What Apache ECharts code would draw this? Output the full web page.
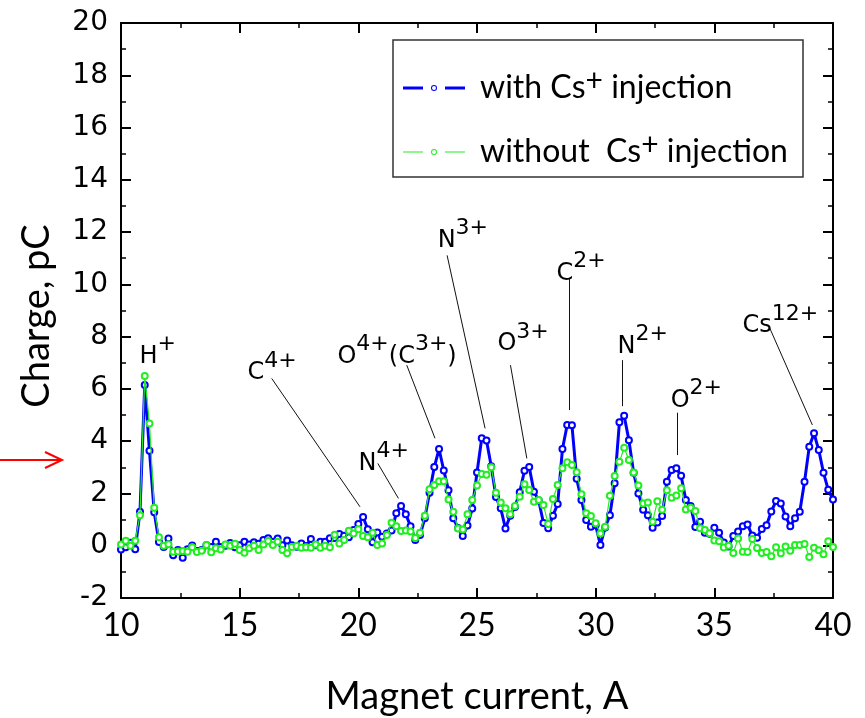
<!DOCTYPE html>
<html>
<head>
<meta charset="utf-8">
<script src="https://cdn.jsdelivr.net/npm/echarts@6/dist/echarts.min.js"></script>
<style>html,body{margin:0;padding:0;background:#fff;}#c{width:865px;height:718px;}</style>
</head>
<body>
<div id="c"></div>
<script>
// Magnet current, A
const xValues = [
 10.0,10.2,10.4,10.6,10.8, 11.0,11.2,11.4,11.6,11.8, 12.0,12.2,12.4,12.6,12.8, 13.0,13.2,13.4,13.6,13.8,
 14.0,14.2,14.4,14.6,14.8, 15.0,15.2,15.4,15.6,15.8, 16.0,16.2,16.4,16.6,16.8, 17.0,17.2,17.4,17.6,17.8,
 18.0,18.2,18.4,18.6,18.8, 19.0,19.2,19.4,19.6,19.8, 20.0,20.2,20.4,20.6,20.8, 21.0,21.2,21.4,21.6,21.8,
 22.0,22.2,22.4,22.6,22.8, 23.0,23.2,23.4,23.6,23.8, 24.0,24.2,24.4,24.6,24.8, 25.0,25.2,25.4,25.6,25.8,
 26.0,26.2,26.4,26.6,26.8, 27.0,27.2,27.4,27.6,27.8, 28.0,28.2,28.4,28.6,28.8, 29.0,29.2,29.4,29.6,29.8,
 30.0,30.2,30.4,30.6,30.8, 31.0,31.2,31.4,31.6,31.8, 32.0,32.2,32.4,32.6,32.8, 33.0,33.2,33.4,33.6,33.8,
 34.0,34.2,34.4,34.6,34.8, 35.0,35.2,35.4,35.6,35.8, 36.0,36.2,36.4,36.6,36.8, 37.0,37.2,37.4,37.6,37.8,
 38.0,38.2,38.4,38.6,38.8, 39.0,39.2,39.4,39.6,39.8, 40.0
];
// Charge with Cs+ injection, pC
const withCs = [
 -0.14,-0.06,0.11,-0.13,1.30, 6.15,3.63,1.28,0.14,-0.05, 0.28,-0.36,-0.16,-0.46,-0.13, 0.01,-0.20,-0.16,0.02,-0.05,
 0.15,-0.05,0.00,0.10,-0.06, 0.02,0.15,0.05,0.13,0.08, 0.22,0.29,0.15,0.28,0.02, 0.20,0.02,-0.04,0.09,-0.01,
 0.26,0.02,0.15,0.15,0.29, 0.30,0.45,0.38,0.32,0.60, 0.83,1.10,0.63,0.13,0.51, 0.34,0.47,0.58,1.24,1.52,
 1.20,0.75,0.22,0.41,1.05, 2.03,3.01,3.70,2.88,2.12, 1.05,0.68,0.37,0.77,1.42, 2.80,4.11,4.03,3.04,1.86,
 1.43,0.66,1.15,1.48,2.05, 2.87,3.01,2.07,1.73,0.87, 0.67,1.15,1.60,3.70,4.62, 4.61,2.56,1.75,0.98,0.73,
 0.78,0.03,0.70,1.17,2.39, 4.72,4.97,4.04,2.79,2.00, 1.38,1.17,0.69,0.89,1.14, 2.45,2.90,2.96,2.68,1.75,
 1.52,0.72,0.92,0.50,0.46, 0.69,0.50,0.12,-0.03,0.37, 0.54,0.75,0.81,0.39,0.31, 0.64,0.78,1.31,1.71,1.62,
 1.12,0.75,1.05,1.30,2.45, 3.79,4.30,3.66,2.79,2.14, 1.77
];
// Charge without Cs+ injection, pC
const withoutCs = [
 0.05,0.19,0.00,0.19,1.17, 6.49,4.68,1.45,0.32,0.00, 0.06,-0.23,-0.22,-0.20,-0.23, -0.06,-0.24,-0.19,0.03,-0.25,
 -0.10,-0.14,0.05,0.00,0.08, -0.16,-0.27,-0.10,0.00,-0.16, 0.05,0.18,0.03,0.15,-0.16, -0.29,-0.05,-0.01,-0.08,-0.06,
 -0.08,0.05,-0.08,0.00,-0.06, 0.42,0.09,0.22,0.57,0.47, 0.63,0.37,0.32,0.50,0.03, 0.09,0.41,0.88,0.75,0.56,
 0.58,0.54,0.30,0.50,1.15, 2.16,2.32,2.47,2.47,1.77, 1.30,0.66,0.62,1.20,1.75, 2.30,2.74,2.72,3.00,2.03,
 1.65,1.43,1.20,1.52,1.87, 2.35,2.13,1.68,1.75,1.56, 0.83,1.79,2.32,2.96,3.19, 3.09,2.81,1.97,1.24,1.14,
 0.86,0.47,0.73,1.91,2.67, 3.21,3.75,3.28,2.80,2.30, 1.62,1.65,0.92,1.70,1.38, 2.12,1.84,1.92,2.20,1.39,
 1.45,1.33,0.67,0.60,0.48, 0.20,0.17,-0.07,0.00,-0.28, 0.28,-0.23,-0.24,0.26,-0.09, -0.28,-0.24,-0.40,-0.06,-0.29,
 -0.03,-0.19,0.03,0.03,0.07, -0.43,-0.08,-0.17,-0.33,0.17, -0.05
];
const seriesNames = ['with Cs+ injection', 'without Cs+ injection'];
const legendTexts = ['{t|with Cs}{s|+}{t| injection}', '{t|without  Cs}{s|+}{t| injection}'];

// Peak annotations (text anchor in data units)
const annoText = ['{b|H}{s|+}', '{b|C}{s|4+}', '{b|N}{s|4+}', '{b|O}{s|4+}{b|(C}{s|3+}{b|)}', '{b|N}{s|3+}',
                  '{b|O}{s|3+}', '{b|C}{s|2+}', '{b|N}{s|2+}', '{b|O}{s|2+}', '{b|Cs}{s|12+}'];
const annoX = [10.76, 15.31, 19.99, 19.10, 23.32, 25.84, 28.33, 30.90, 33.14, 36.17];
const annoY = [7.24, 6.60, 3.15, 7.24, 11.68, 7.71, 10.41, 7.63, 5.56, 8.40];
// Leader lines [x1, y1, x2, y2] in data units
const leaders = [
 [16.35, 6.40, 20.07, 1.49],
 [20.82, 3.15, 21.69, 1.81],
 [22.04, 6.91, 23.23, 4.11],
 [23.74, 11.11, 25.34, 4.49],
 [26.41, 6.91, 27.10, 3.34],
 [28.89, 10.24, 28.89, 5.19],
 [31.13, 7.10, 31.13, 5.34],
 [33.43, 5.09, 33.43, 3.47],
 [37.28, 8.44, 39.13, 4.62]
];
const xTicks = {min: 10, max: 40, interval: 5};
const yTicks = {min: -2, max: 20, interval: 2};

// legend icons: line segment - hollow marker - line segment
const ring = 'M28,3 a3,3 0 1,0 6,0 a3,3 0 1,0 -6,0 Z M29,3 a2,2 0 1,1 4,0 a2,2 0 1,1 -4,0 Z';
const iconBlue = 'path://M0,1.5 L20,1.5 L20,4.5 L0,4.5 Z M42,1.5 L62,1.5 L62,4.5 L42,4.5 Z ' + ring;
const iconGreen = 'path://M0,2.4 L20,2.4 L20,3.6 L0,3.6 Z M42,2.4 L62,2.4 L62,3.6 L42,3.6 Z ' + ring;

const chart = echarts.init(document.getElementById('c'), null, {renderer: 'canvas'});

const axisCommon = {
  axisLine: {show: true, onZero: false, lineStyle: {color: '#000', width: 2}},
  axisTick: {show: true, inside: true, length: 10, lineStyle: {color: '#000', width: 2}},
  minorTick: {show: true, splitNumber: 2, length: 5, lineStyle: {color: '#000', width: 1.5}},
  splitLine: {show: false}
};

const option = {
  backgroundColor: '#fff',
  animation: false,
  grid: {left: 121, top: 23, right: 32, bottom: 120, containLabel: false, outerBoundsMode: 'none'},
  xAxis: [
    Object.assign({type: 'value', position: 'bottom', min: xTicks.min, max: xTicks.max, interval: xTicks.interval,
      axisLabel: {show: true, margin: 12, color: '#000', fontFamily: 'Lato', fontSize: 32},
      name: 'Magnet current, A', nameLocation: 'middle', nameGap: 80,
      nameTextStyle: {color: '#000', fontFamily: 'Lato', fontSize: 38}}, axisCommon),
    Object.assign({type: 'value', position: 'top', min: xTicks.min, max: xTicks.max, interval: xTicks.interval,
      axisLabel: {show: false}}, axisCommon)
  ],
  yAxis: [
    Object.assign({type: 'value', position: 'left', min: yTicks.min, max: yTicks.max, interval: yTicks.interval,
      axisLabel: {show: true, margin: 13, color: '#000', fontFamily: 'DejaVu Sans', fontSize: 28}}, axisCommon),
    Object.assign({type: 'value', position: 'right', min: yTicks.min, max: yTicks.max, interval: yTicks.interval,
      axisLabel: {show: false}}, axisCommon)
  ],
  legend: {
    orient: 'vertical', left: 403, top: 66, padding: 0, itemGap: 26, itemWidth: 62, itemHeight: 6,
    data: [{name: seriesNames[0], icon: iconBlue}, {name: seriesNames[1], icon: iconGreen}],
    itemStyle: {borderWidth: 0},
    formatter: function (name) { return legendTexts[seriesNames.indexOf(name)]; },
    textStyle: {
      padding: [0, 0, 0, 10],
      rich: {
        t: {fontFamily: 'Lato', fontSize: 32, lineHeight: 44, color: '#000'},
        s: {fontFamily: 'Lato', fontSize: 30, lineHeight: 6, verticalAlign: 'top', color: '#000'}
      }
    }
  },
  graphic: [
    {type: 'rect', z: 50, shape: {x: 393, y: 40, width: 410, height: 137},
     style: {fill: null, stroke: '#333', lineWidth: 1.5}},
    {type: 'text', x: 37, y: 316, rotation: Math.PI / 2,
     style: {text: 'Charge, pC', fontFamily: 'Lato', fontSize: 38, fill: '#000', textAlign: 'center', textVerticalAlign: 'middle'}},
    {type: 'line', shape: {x1: 0, y1: 460, x2: 62, y2: 460}, style: {stroke: '#ff0000', lineWidth: 2}},
    {type: 'polyline', shape: {points: [[45, 452], [62, 460], [45, 468]]}, style: {stroke: '#ff0000', lineWidth: 2, fill: null}}
  ],
  series: [
    {
      name: seriesNames[0], type: 'line', z: 3,
      data: xValues.map((x, i) => [x, withCs[i]]),
      symbol: 'emptyCircle', symbolSize: 6, showSymbol: true,
      lineStyle: {color: '#0000ff', width: 3},
      itemStyle: {color: '#0000ff', borderWidth: 1}
    },
    {
      name: seriesNames[1], type: 'line', z: 4,
      data: xValues.map((x, i) => [x, withoutCs[i]]),
      symbol: 'emptyCircle', symbolSize: 6, showSymbol: true,
      lineStyle: {color: '#22ee22', width: 1.2},
      itemStyle: {color: '#22ee22', borderWidth: 1}
    },
    {
      name: 'leaders', type: 'lines', coordinateSystem: 'cartesian2d', z: 2,
      data: leaders.map(l => ({coords: [[l[0], l[1]], [l[2], l[3]]]})),
      lineStyle: {color: '#111', width: 1, opacity: 1}
    },
    {
      name: 'labels', type: 'scatter', z: 5, symbolSize: 1,
      itemStyle: {color: 'transparent'},
      data: annoX.map((x, i) => [x, annoY[i]]),
      label: {
        show: true, position: 'right', distance: 0, color: '#000', opacity: 1,
        formatter: function (p) { return annoText[p.dataIndex]; },
        rich: {
          b: {fontFamily: 'DejaVu Sans', fontSize: 24, lineHeight: 46, color: '#000'},
          s: {fontFamily: 'DejaVu Sans', fontSize: 22, lineHeight: 6, verticalAlign: 'top', color: '#000'}
        }
      }
    }
  ]
};
chart.setOption(option);
</script>
</body>
</html>
